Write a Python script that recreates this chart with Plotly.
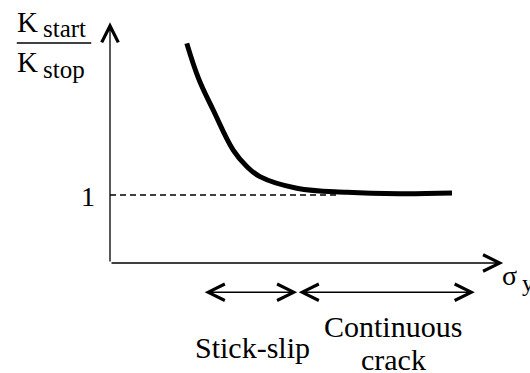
import plotly.graph_objects as go

# schematic curve: K_start / K_stop versus sigma_y (arbitrary units)
curve_x = [1.92, 2.21, 2.58, 3.08, 3.42, 3.75, 4.67, 5.93, 7.25, 8.55]
curve_y = [3.23, 2.72, 2.25, 1.66, 1.42, 1.27, 1.10, 1.04, 1.02, 1.03]

# reference level K_start / K_stop = 1
ref_x = [0, 5.7]
ref_y = [1, 1]

# regime ranges below the x axis
stick_slip = [2.33, 4.68]
continuous = [4.68, 9.12]
regime_y = -0.43

x_max = 9.83
y_max = 3.54

FONT = "'Liberation Serif', 'Times New Roman', serif"

fig = go.Figure()

fig.add_trace(go.Scatter(
    x=ref_x, y=ref_y, mode='lines',
    line=dict(color='black', width=1.4, dash='6px,4px'),
    hoverinfo='skip',
))
fig.add_trace(go.Scatter(
    x=curve_x, y=curve_y, mode='lines',
    line=dict(color='black', width=5, shape='spline', smoothing=1.1),
    hoverinfo='skip',
))

def arrow(x0, y0, x1, y1, both=False):
    fig.add_annotation(
        x=x1, y=y1, ax=x0, ay=y0,
        xref='x', yref='y', axref='x', ayref='y',
        text='', showarrow=True,
        arrowhead=5, arrowsize=2.5, arrowwidth=1.3, arrowcolor='black',
        startarrowhead=5, startarrowsize=2.5,
        arrowside='end+start' if both else 'end',
    )

# axes
arrow(0, 0, 0, y_max)
arrow(0, 0, x_max, 0)
# regimes
arrow(stick_slip[0], regime_y, stick_slip[1], regime_y, both=True)
arrow(continuous[0], regime_y, continuous[1], regime_y, both=True)

def label(x, y, text, size=28, **kw):
    fig.add_annotation(x=x, y=y, text=text, xref='x', yref='y', showarrow=False,
                       font=dict(family=FONT, size=size, color='black'), **kw)

label(-0.55, 0.98, '1')
label(3.55, -1.24, 'Stick-slip', size=30)
label(7.08, -0.93, 'Continuous', size=30)
label(7.08, -1.42, 'crack', size=30)
label(9.75, -0.18, 'σ', xanchor='left')
label(10.25, -0.3, 'y', size=24, xanchor='left')
# K_start / K_stop
label(-2.38, 3.55, 'K', size=29, xanchor='left')
label(-1.72, 3.45, 'start', size=25, xanchor='left')
label(-2.38, 2.96, 'K', size=29, xanchor='left')
label(-1.72, 2.85, 'stop', size=25, xanchor='left')

# fraction bar
fig.add_shape(type='line', xref='x', yref='y', x0=-2.33, x1=-0.47, y0=3.235, y1=3.235,
              line=dict(color='black', width=1.5))

fig.update_xaxes(visible=False, range=[-2.75, 10.5])
fig.update_yaxes(visible=False, range=[-1.618, 3.868])
fig.update_layout(
    width=530, height=373,
    margin=dict(l=0, r=0, t=0, b=0),
    plot_bgcolor='white', paper_bgcolor='white',
    showlegend=False,
)

fig.write_html("out.html", config={'displayModeBar': False},
               post_script="document.body.style.margin='0';")
